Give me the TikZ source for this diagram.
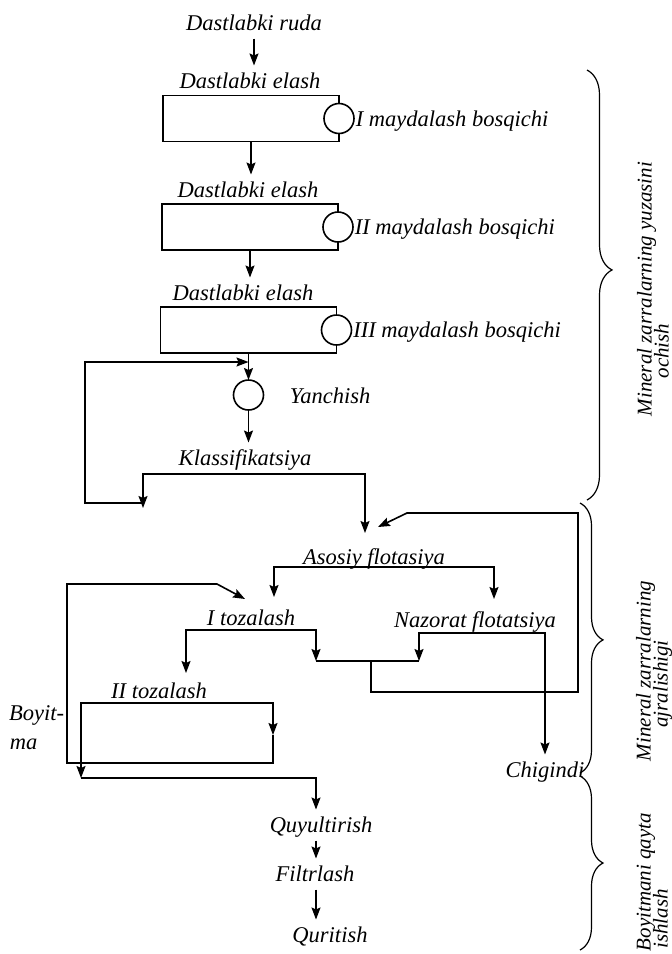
\documentclass[tikz,border=0pt]{standalone}
\usepackage{fontspec}
\setmainfont{Liberation Serif}
\usetikzlibrary{arrows.meta,decorations.pathreplacing}
\begin{document}
\begin{tikzpicture}[x=1pt,y=-1pt,>={Stealth[length=12pt,width=9pt,inset=2pt]},
		font=\fontsize{22.5}{18}\selectfont\itshape, line width=1.6pt, line join=miter,
		chu/.style={inner xsep=1pt,inner ysep=0pt,outer ysep=8pt,text height=15pt,text depth=0pt},
		hop/.style={draw,minimum width=176pt,minimum height=46pt,inner sep=0pt,outer sep=0pt},
		vong/.style={draw,circle,fill=white,minimum size=30pt,inner sep=0pt,outer sep=0pt},
		ngoac/.style 2 args={decorate,decoration={brace,amplitude=#1,aspect=#2},line width=1.2pt},
		doc/.style={chu,outer ysep=0pt,rotate=90,font=\fontsize{21}{18}\selectfont\itshape}]
	\useasboundingbox (0,0) rectangle (672,954);
	% maydalash
	\node[chu] (ruda) at (254,23) {Dastlabki ruda};
	\node[chu] (el1) at (250,81) {Dastlabki elash};
	\node[hop] (bx1) at (251,118.5) {};
	\node[vong] (m1) at (bx1.east) {};
	\node[chu,anchor=west] (n1) at (m1.east) {I maydalash bosqichi};
	\node[chu] (el2) at (248,190) {Dastlabki elash};
	\node[hop] (bx2) at (250,227) {};
	\node[vong] (m2) at (bx2.east) {};
	\node[chu,anchor=west] (n2) at (m2.east) {II maydalash bosqichi};
	\node[chu] (el3) at (243,293) {Dastlabki elash};
	\node[hop] (bx3) at (248.5,330) {};
	\node[vong] (m3) at (bx3.east) {};
	\node[chu,anchor=west] (n3) at (m3.east) {III maydalash bosqichi};
	\node[vong] (yc) at (248.5,395) {};
	\node[chu,anchor=west] (yn) at (288,396) {Yanchish};
	\node[chu] (kl) at (245,458) {Klassifikatsiya};
	\draw[->] (ruda.south) -- (ruda.south |- el1.north);
	\draw[->] (bx1.south) -- (bx1.south |- el2.north);
	\draw[->] (bx2.south) -- (bx2.south |- el3.north);
	\draw[->] (bx3.south) -- (yc.north);
	\draw[->] (yc.south) -- (yc.south |- kl.north);
	\coordinate (kA) at (143,474); \coordinate (kL) at (143,508); \coordinate (kR) at (365,533);
	\coordinate (ve) at (85,503); \coordinate (yv) at (248.5,362);
	\draw[<->] (kL) -- (kA) -| (kR);
	\draw[->] (kL |- ve) -- (ve) |- (yv);
	% flotatsiya
	\node[chu] (as) at (374,557) {Asosiy flotasiya};
	\node[chu] (t1z) at (251,618) {I tozalash};
	\node[chu] (naz) at (475,620) {Nazorat flotatsiya};
	\node[chu] (t2z) at (159,691) {II tozalash};
	\node[chu] (chi) at (545,770) {Chigindi};
	\node[chu,anchor=east] (boy) at (66,713) {Boyit-};
	\node[chu,anchor=west] (ma) at (8,742) {ma};
	\coordinate (w1) at (371,661); \coordinate (w2) at (578,692);
	\coordinate (w3) at (407,513); \coordinate (w4) at (378,527);
	\draw[->] (w1) |- (w2) |- (w3) -- (w4);
	\coordinate (aA) at (274,567); \coordinate (aL) at (274,597); \coordinate (aR) at (494,599);
	\draw[<->] (aL) -- (aA) -| (aR);
	\coordinate (f0) at (186,673); \coordinate (f1) at (186,630); \coordinate (f2) at (316,661);
	\coordinate (h0) at (419,661); \coordinate (h1) at (419,633);
	\draw[<->] (f0) -- (f1) -| (f2);
	\draw[<->] (h0) -- (h1) -| (chi.north);
	\draw (f2) -- (h0);
	\coordinate (e0) at (81,778); \coordinate (e1) at (81,703); \coordinate (e6) at (273,735);
	\coordinate (e2) at (273,763); \coordinate (e3) at (67,584); \coordinate (e4) at (217,584);
	\coordinate (e5) at (245,599);
	\draw[<->] (e0) -- (e1) -| (e6);
	\draw[->] (e6) -- (e2) -| (e3) -- (e4) -- (e5);
	% boyitma
	\node[chu] (quy) at (321,825) {Quyultirish};
	\node[chu] (fil) at (315,874) {Filtrlash};
	\node[chu] (qur) at (330,935) {Quritish};
	\draw[->] (e0) -| (f2 |- quy.north);
	\draw[->] (quy.south -| f2) -- (f2 |- fil.north);
	\draw[->] (fil.south -| f2) -- (f2 |- qur.north);
	% qavslar
	\draw[ngoac={25pt}{0.465}] (587,70) -- (587,500);
	\draw[ngoac={23pt}{0.507}] (580,503) -- (580,773);
	\draw[ngoac={23pt}{0.5}] (580,776) -- (580,950);
	\node[doc] (g1a) at (644,289) {Mineral zarralarning yuzasini};
	\node[doc] (g1b) at (661,351) {ochish};
	\node[doc] (g2a) at (643,671) {Mineral zarralarning};
	\node[doc] (g2b) at (660,684) {ajralishigi};
	\node[doc] (g3a) at (643,882) {Boyitmani qayta};
	\node[doc] (g3b) at (660,919) {ishlash};
\end{tikzpicture}
\end{document}
